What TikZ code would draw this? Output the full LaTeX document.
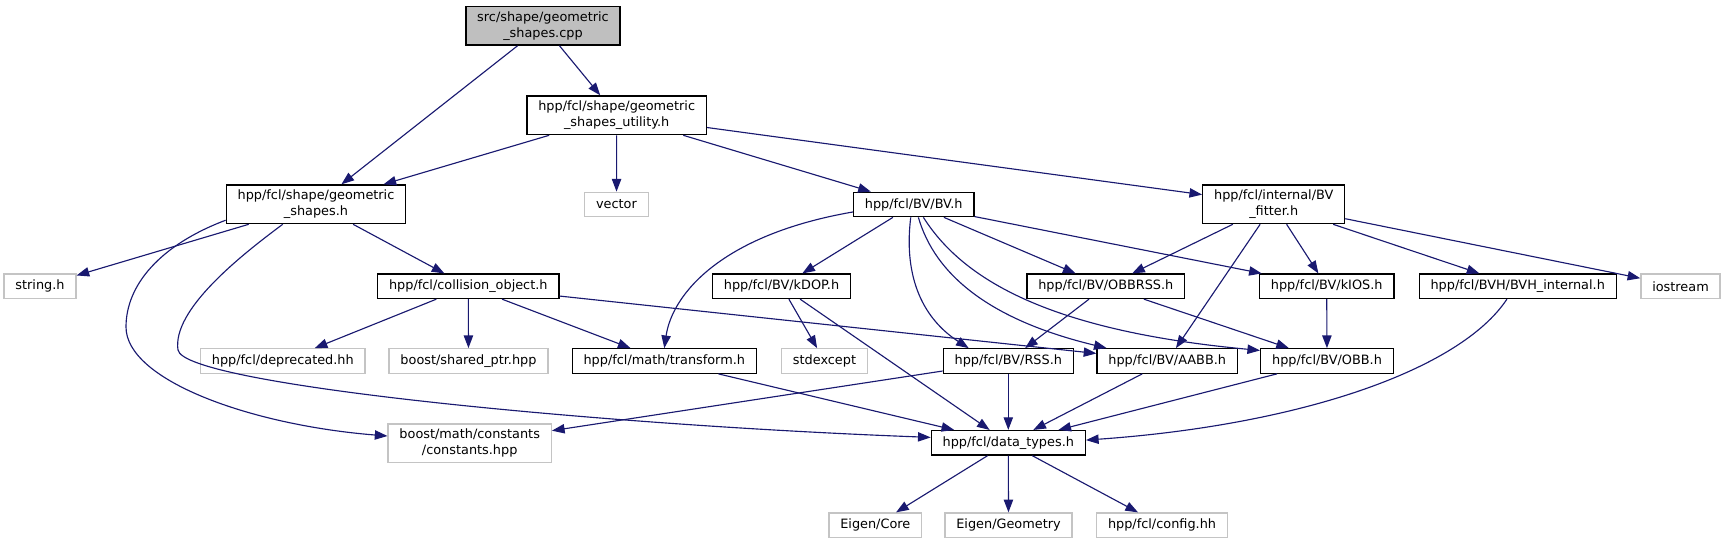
\documentclass[tikz,border=0pt]{standalone}
\usepackage{fontspec}
\setmainfont{DejaVu Sans}
\usetikzlibrary{arrows.meta}
\definecolor{DoxEdge}{HTML}{191970}
\definecolor{DoxGrey}{HTML}{BFBFBF}
\definecolor{DoxLine}{HTML}{C4C4C4}

\begin{document}
\begin{tikzpicture}[x=0.75pt,y=-0.75pt]
    \tikzset{file/.style={draw=black,line width=1pt,fill=white,align=center,inner xsep=8.5pt,inner ysep=0pt,minimum height=18.3pt,font=\fontsize{9.64}{12}\selectfont},
      extfile/.style={file,draw=DoxLine},
      srcfile/.style={file,fill=DoxGrey},
      twoline/.style={minimum height=29pt},
      incl/.style={draw=DoxEdge,line width=0.85pt,-{Triangle[length=9.5pt,width=7pt]}}}
    \useasboundingbox (0,0) rectangle (1726,544);
    \node[srcfile,twoline] (src) at (543,25.7) {src/shape/geometric\\\_shapes.cpp};
    \node[file,twoline] (util) at (616.7,115.3) {hpp/fcl/shape/geometric\\\_shapes\_utility.h};
    \node[file,twoline] (gs) at (316,204.3) {hpp/fcl/shape/geometric\\\_shapes.h};
    \node[extfile] (vector) at (616.5,204.5) {vector};
    \node[file] (bv) at (913.7,204.5) {hpp/fcl/BV/BV.h};
    \node[file,twoline] (fitter) at (1273.7,204.3) {hpp/fcl/internal/BV\\\_fitter.h};
    \node[extfile] (strh) at (40,286.3) {string.h};
    \node[file] (collobj) at (468.3,286.3) {hpp/fcl/collision\_object.h};
    \node[file] (kdop) at (781.5,286.3) {hpp/fcl/BV/kDOP.h};
    \node[file] (obbrss) at (1105.8,286.3) {hpp/fcl/BV/OBBRSS.h};
    \node[file] (kios) at (1326.7,286.3) {hpp/fcl/BV/kIOS.h};
    \node[file] (bvhint) at (1517.7,286.3) {hpp/fcl/BVH/BVH\_internal.h};
    \node[extfile] (iostream) at (1680.5,286.3) {iostream};
    \node[extfile] (deprecated) at (282.8,361) {hpp/fcl/deprecated.hh};
    \node[extfile] (sharedptr) at (468.5,361) {boost/shared\_ptr.hpp};
    \node[file] (transform) at (664.3,361) {hpp/fcl/math/transform.h};
    \node[extfile] (stdexcept) at (824.5,361) {stdexcept};
    \node[file] (rss) at (1008.3,361) {hpp/fcl/BV/RSS.h};
    \node[file] (aabb) at (1167.2,361) {hpp/fcl/BV/AABB.h};
    \node[file] (obb) at (1327,361) {hpp/fcl/BV/OBB.h};
    \node[extfile,twoline] (constants) at (469.7,443.2) {boost/math/constants\\/constants.hpp};
    \node[file] (datatypes) at (1008.3,442.8) {hpp/fcl/data\_types.h};
    \node[extfile] (eigencore) at (875.3,525.2) {Eigen/Core};
    \node[extfile] (eigengeom) at (1008.5,525.2) {Eigen/Geometry};
    \node[extfile] (config) at (1162,525.2) {hpp/fcl/config.hh};

    \draw[incl] (src) -- (gs);
    \draw[incl] (src) -- (util);
    \draw[incl] (util) -- (gs);
    \draw[incl] (util) -- (vector);
    \draw[incl] (util) -- (bv);
    \draw[incl] (util) -- (fitter);
    \draw[incl] (gs) -- (strh);
    \draw[incl] (gs) -- (collobj);
    \draw[incl] (gs.190) .. controls (160,245) and (126,285) .. (126,327) .. controls (126,380) and (250,425) .. (constants.175);
    \draw[incl] (gs.211) .. controls (240,256) and (172,310) .. (178,350) .. controls (184,385) and (600,425) .. (datatypes.176);
    \draw[incl] (bv.187) .. controls (720,235) and (672,295) .. (transform.north);
    \draw[incl] (bv) -- (kdop);
    \draw[incl] (bv.257) .. controls (903,280) and (925,320) .. (rss.162);
    \draw[incl] (bv.290) .. controls (935,275) and (990,320) .. (aabb.168);
    \draw[incl] (bv.307) .. controls (960,275) and (1040,330) .. (obb.171);
    \draw[incl] (bv) -- (obbrss);
    \draw[incl] (bv) -- (kios);
    \draw[incl] (fitter) -- (obbrss);
    \draw[incl] (fitter) -- (aabb);
    \draw[incl] (fitter) -- (kios);
    \draw[incl] (fitter) -- (bvhint);
    \draw[incl] (fitter) -- (iostream);
    \draw[incl] (collobj) -- (deprecated);
    \draw[incl] (collobj) -- (sharedptr);
    \draw[incl] (collobj) -- (transform);
    \draw[incl] (collobj) -- (aabb);
    \draw[incl] (kdop) -- (stdexcept);
    \draw[incl] (kdop) -- (datatypes);
    \draw[incl] (obbrss) -- (rss);
    \draw[incl] (obbrss) -- (obb);
    \draw[incl] (kios) -- (obb);
    \draw[incl] (bvhint.230) .. controls (1460,370) and (1300,425) .. (datatypes.2);
    \draw[incl] (transform) -- (datatypes);
    \draw[incl] (rss) -- (constants);
    \draw[incl] (rss) -- (datatypes);
    \draw[incl] (aabb) -- (datatypes);
    \draw[incl] (obb) -- (datatypes);
    \draw[incl] (datatypes) -- (eigencore);
    \draw[incl] (datatypes) -- (eigengeom);
    \draw[incl] (datatypes) -- (config);
\end{tikzpicture}
\end{document}
